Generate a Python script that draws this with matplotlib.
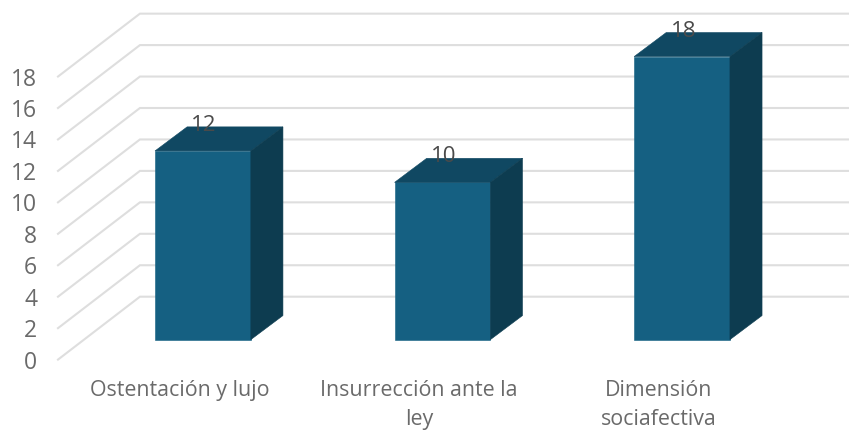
import matplotlib
matplotlib.use('Agg')
import numpy as np
import matplotlib.pyplot as plt
from matplotlib.patches import Polygon

categories = ['Ostentación y lujo', 'Insurrección ante la\nley', 'Dimensión\nsociafectiva']
values = [12, 10, 18]
y_ticks = [0, 2, 4, 6, 8, 10, 12, 14, 16, 18]

plt.rcParams['font.family'] = ['Open Sans', 'DejaVu Sans']

fig = plt.figure(figsize=(8.49, 4.33), dpi=100)
ax = fig.add_axes([58 / 849, 73.4 / 433, 791 / 849, 359 / 433])
ax.set_xlim(-0.605, 2.697)
ax.set_ylim(-1.27, 21.56)

bar_w = 0.4
# fake 3d offsets, in data units
depth_x = 0.134
depth_y = 1.53
wall_x = 0.342
wall_y = 4.0
floor = -1.27

# gridlines: side wall then back wall
for v in y_ticks:
    ax.plot([-0.605, -0.605 + wall_x, 2.697], [v + floor, v + floor + wall_y, v + floor + wall_y],
            color='#dedede', lw=1.5, zorder=1, clip_on=False, solid_joinstyle='miter')

x = np.arange(len(values))
ax.bar(x, values, width=bar_w, color='#156082', edgecolor='#156082', lw=0.4, zorder=3)
for xi, v in zip(x, values):
    left = xi - bar_w / 2
    right = xi + bar_w / 2
    top = Polygon([(left, v), (right, v), (right + depth_x, v + depth_y), (left + depth_x, v + depth_y)],
                  facecolor='#104862', edgecolor='#104862', lw=0.4, zorder=3)
    side = Polygon([(right, 0), (right + depth_x, depth_y), (right + depth_x, v + depth_y), (right, v)],
                   facecolor='#0d3c50', edgecolor='#0d3c50', lw=0.4, zorder=3)
    ax.add_patch(top)
    ax.add_patch(side)
    ax.text(xi + 0.005, v + 1.62, str(v), ha='center', va='center', fontsize=16, color='#4a4a4a', zorder=5)

ax.set_yticks(np.array(y_ticks) + floor)
ax.set_yticklabels([str(v) for v in y_ticks], fontsize=16.5, color='#6a6a6a')
ax.set_xticks(x - 0.098)
ax.set_xticklabels(categories, fontsize=15.4, color='#6a6a6a', linespacing=1.5)
ax.tick_params(axis='y', length=0, pad=15)
ax.tick_params(axis='x', length=0, pad=14.5)
for s in ax.spines.values():
    s.set_visible(False)
ax.patch.set_alpha(0)

fig.savefig('out.png', dpi=100)
